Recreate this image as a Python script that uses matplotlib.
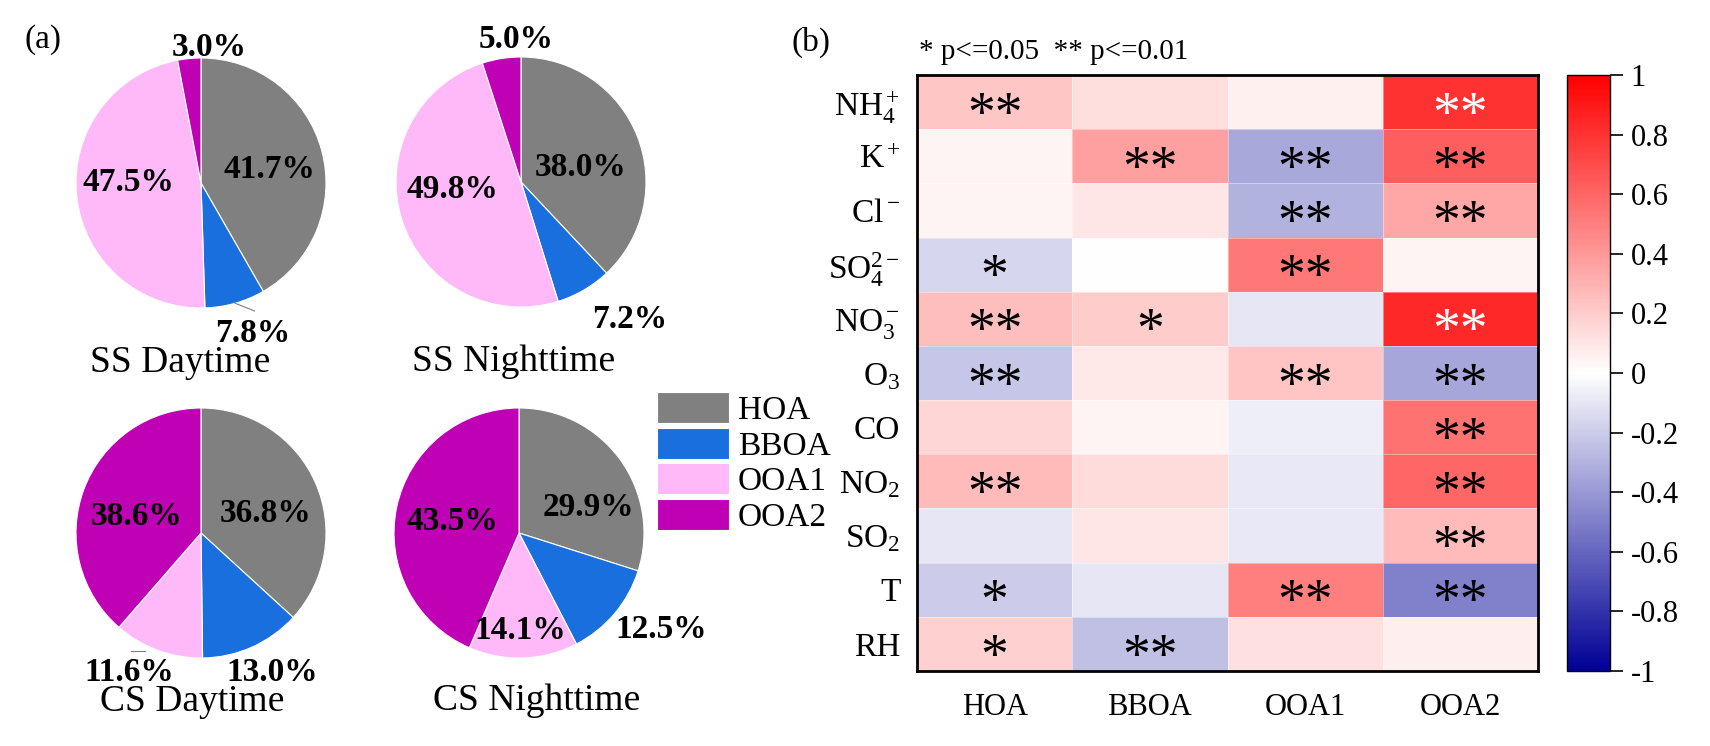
import numpy as np
import matplotlib as mpl
mpl.use('Agg')
import matplotlib.pyplot as plt
from matplotlib.colors import LinearSegmentedColormap
from matplotlib.patches import Patch

plt.rcParams['font.family'] = ['Liberation Serif', 'DejaVu Serif']
plt.rcParams['mathtext.fontset'] = 'custom'
plt.rcParams['mathtext.rm'] = 'Liberation Serif'
plt.rcParams['mathtext.it'] = 'Liberation Serif:italic'
plt.rcParams['mathtext.bf'] = 'Liberation Serif:bold'

# ---- pie data (% of OA) ----
factors = ['HOA', 'BBOA', 'OOA1', 'OOA2']
factor_colors = ['#808080', '#1a6fdf', '#ffb8f8', '#c000b4']
periods = ['SS Daytime', 'SS Nighttime', 'CS Daytime', 'CS Nighttime']
ss_day = [41.7, 7.8, 47.5, 3.0]
ss_night = [38.0, 7.2, 49.8, 5.0]
cs_day = [36.8, 13.0, 11.6, 38.6]
cs_night = [29.9, 12.5, 14.1, 43.5]

# ---- correlation data ----
species = ['NH$_4^+$', 'K$^+$', 'Cl$^-$', 'SO$_4^{2-}$', 'NO$_3^-$', 'O$_3$',
           'CO', 'NO$_2$', 'SO$_2$', 'T', 'RH']
r_hoa = [0.22, 0.04, 0.04, -0.16, 0.25, -0.22, 0.16, 0.27, -0.10, -0.20, 0.18]
r_bboa = [0.13, 0.37, 0.10, 0.00, 0.20, 0.09, 0.04, 0.14, 0.10, -0.10, -0.25]
r_ooa1 = [0.06, -0.34, -0.30, 0.53, -0.10, 0.23, -0.07, -0.09, -0.09, 0.50, 0.12]
r_ooa2 = [0.80, 0.63, 0.35, 0.04, 0.84, -0.35, 0.55, 0.60, 0.27, -0.50, 0.07]
sig_hoa = ['**', '', '', '*', '**', '**', '', '**', '', '*', '*']
sig_bboa = ['', '**', '', '', '*', '', '', '', '', '', '**']
sig_ooa1 = ['', '**', '**', '**', '', '**', '', '', '', '**', '']
sig_ooa2 = ['**', '**', '**', '', '**', '**', '**', '**', '**', '**', '']

W, H = 1710, 746
fig = plt.figure(figsize=(W / 100, H / 100), dpi=100)

# pie layout: centre (px), radius (px), label distances, angle nudges, title pos
pie_centres = [(201, 183), (521, 182), (201, 533), (519, 533)]
pie_r = 125
label_dist = [[0.56, 1.27, 0.58, 1.09], [0.49, 1.40, 0.55, 1.14],
              [0.54, 1.25, 1.25, 0.53], [0.59, 1.37, 0.78, 0.54]]
label_nudge = [[-4, 3, -7, -9], [-8, 8, -11, -7],
               [-7, 3, -7, 6], [-16, 6, -1, 2]]
title_pos = [(-0.17, -1.44), (-0.06, -1.44), (-0.07, -1.35), (0.14, -1.34)]

pies = [ss_day, ss_night, cs_day, cs_night]
for k, vals in enumerate(pies):
    cx, cy = pie_centres[k]
    ax = fig.add_axes([(cx - pie_r) / W, (H - cy - pie_r) / H, 2 * pie_r / W, 2 * pie_r / H])
    wedges, _ = ax.pie(vals, colors=factor_colors, startangle=90, counterclock=False,
                       wedgeprops=dict(edgecolor='white', linewidth=0.8))
    ax.set_xlim(-1, 1)
    ax.set_ylim(-1, 1)
    cum = np.cumsum(vals)
    tot = cum[-1]
    for i, v in enumerate(vals):
        mid = 90 - 360 * (cum[i] - v / 2) / tot + label_nudge[k][i]
        d = label_dist[k][i]
        ax.text(d * np.cos(np.radians(mid)), d * np.sin(np.radians(mid)), '%.1f%%' % v,
                ha='center', va='center', fontsize=24, fontweight='bold')
    tx, ty = title_pos[k]
    ax.text(tx, ty, periods[k], ha='center', va='center', fontsize=27)
    if k == 0:
        # small leader line for BBOA
        a0 = np.radians(90 - 360 * (cum[1] - vals[1] / 2) / tot)
        ax.plot([1.0 * np.cos(a0), 1.11 * np.cos(a0 + 0.12)],
                [1.0 * np.sin(a0), 1.11 * np.sin(a0 + 0.12)],
                color='#808080', lw=0.8, clip_on=False)
    if k == 2:
        ax.plot([-0.45, -0.56], [-0.945, -0.945], color='#808080', lw=0.8, clip_on=False)

fig.legend([Patch(facecolor=c, edgecolor='white', linewidth=0.8) for c in factor_colors],
           factors, loc='upper left', bbox_to_anchor=(657 / W, 1 - 392 / H),
           frameon=False, borderpad=0, borderaxespad=0, handlelength=2.15,
           handleheight=1.06, handletextpad=0.27, labelspacing=0.05, fontsize=24)

fig.text(43 / W, 1 - 40 / H, '(a)', ha='center', va='center', fontsize=24)
fig.text(811 / W, 1 - 42 / H, '(b)', ha='center', va='center', fontsize=24)
fig.text(919 / W, 1 - 52 / H, '* p<=0.05  ** p<=0.01', ha='left', va='center', fontsize=21)

# ---- heatmap ----
cmap = LinearSegmentedColormap.from_list('navy_white_red', ['#000096', '#ffffff', '#ff0000'])
corr = np.array([r_hoa, r_bboa, r_ooa1, r_ooa2]).T
sig = np.array([sig_hoa, sig_bboa, sig_ooa1, sig_ooa2]).T

hb, ht = 1 - 671 / H, 596 / H
axh = fig.add_axes([917 / W, hb, 621 / W, ht])
mesh = axh.pcolormesh(np.arange(5), np.arange(12), corr, cmap=cmap, vmin=-1, vmax=1,
                      edgecolors=(1, 1, 1, 0.4), linewidth=0.6)
axh.set_xlim(0, 4)
axh.set_ylim(11, 0)
axh.set_xticks(np.arange(4) + 0.5, factors)
axh.set_yticks(np.arange(11) + 0.5, species)
axh.tick_params(axis='x', length=0, labelsize=22, pad=16)
axh.tick_params(axis='y', length=0, labelsize=24, pad=12)
for s in axh.spines.values():
    s.set_linewidth(2)
for i in range(corr.shape[0]):
    for j in range(corr.shape[1]):
        if sig[i, j]:
            axh.text(j + 0.5, i + 0.5 + 0.27, sig[i, j], ha='center', va='center', fontsize=40,
                     color='white' if corr[i, j] > 0.75 else 'black')

cax = fig.add_axes([1567 / W, hb, 43 / W, ht])
ticks = np.round(np.linspace(1, -1, 11), 1)
cb = fig.colorbar(mesh, cax=cax, ticks=ticks)
cb.ax.set_yticklabels(['%g' % t for t in ticks])
cb.ax.tick_params(length=9, width=1.2, labelsize=22, pad=6)
cb.outline.set_linewidth(1)

fig.savefig('out.png', dpi=100)
